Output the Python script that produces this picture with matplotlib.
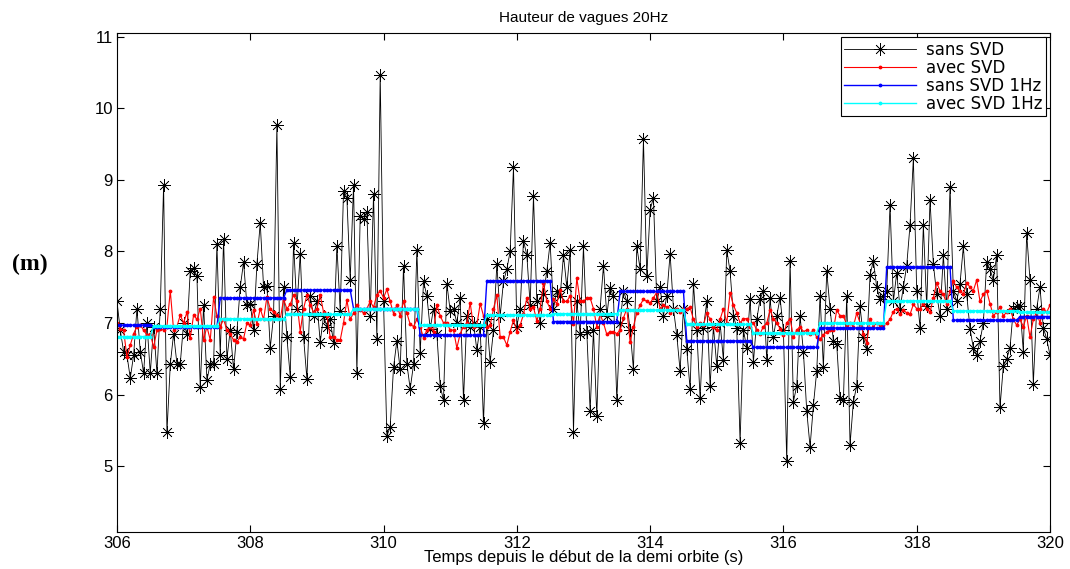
import numpy as np
import matplotlib
matplotlib.use("Agg")
import matplotlib.pyplot as plt

# 20 Hz samples, 306.00 .. 320.00 s
t_start, t_end, freq = 306.0, 320.0, 20

sans_svd = [
    7.30, 6.90, 6.60, 6.55, 6.23, 6.55, 7.20, 6.60, 6.30, 7.00,
    6.30, 6.95, 6.30, 7.20, 8.93, 5.47, 6.42, 6.85, 6.43, 6.43,
    7.00, 6.85, 7.73, 7.77, 7.65, 6.10, 7.25, 6.20, 6.43, 6.43,
    8.10, 6.55, 8.17, 6.50, 6.90, 6.35, 6.88, 7.50, 7.85, 7.25,
    7.27, 6.90, 7.82, 8.40, 7.50, 7.52, 6.65, 7.10, 9.77, 6.08,
    7.50, 6.80, 6.25, 8.12, 7.20, 7.97, 6.80, 6.22, 7.37, 7.10,
    7.30, 6.73, 7.10, 6.95, 7.05, 6.72, 8.08, 7.17, 8.85, 8.75,
    7.60, 8.93, 6.30, 8.50, 8.45, 8.55, 7.10, 8.80, 6.78, 10.47,
    7.30, 5.42, 5.55, 6.38, 6.75, 6.35, 7.80, 6.43, 6.08, 6.42,
    8.02, 6.58, 7.58, 7.38, 6.92, 7.20, 6.85, 6.12, 5.92, 7.55,
    7.17, 7.20, 7.00, 7.35, 5.92, 7.10, 6.95, 7.00, 6.62, 6.95,
    5.60, 7.05, 6.45, 6.90, 7.82, 7.10, 7.58, 7.75, 8.00, 9.18,
    6.95, 7.20, 8.15, 7.95, 7.25, 8.78, 7.30, 7.00, 7.40, 7.72,
    8.12, 7.20, 7.45, 7.37, 7.95, 7.50, 8.02, 5.47, 7.30, 6.85,
    8.07, 6.88, 5.77, 6.90, 5.70, 7.20, 7.80, 7.10, 7.49, 7.37,
    5.92, 7.00, 7.45, 7.30, 6.90, 6.35, 8.07, 7.75, 9.57, 7.65,
    8.58, 8.75, 7.30, 7.50, 7.10, 7.38, 7.97, 7.20, 6.83, 6.33,
    7.20, 6.63, 6.08, 7.55, 6.90, 5.95, 6.93, 7.30, 6.12, 6.95,
    6.40, 7.00, 6.48, 8.02, 7.72, 7.10, 6.93, 5.33, 6.90, 6.65,
    7.33, 6.45, 7.05, 7.33, 7.45, 6.48, 7.35, 6.80, 7.10, 7.35,
    6.90, 5.07, 7.87, 5.90, 6.12, 7.10, 6.60, 5.77, 5.27, 5.85,
    6.33, 7.38, 6.38, 7.72, 7.20, 6.75, 6.70, 5.95, 5.92, 7.38,
    5.30, 5.90, 6.12, 7.23, 6.80, 6.63, 7.67, 7.87, 7.50, 7.33,
    7.37, 7.45, 8.65, 7.30, 7.70, 7.20, 7.50, 7.80, 8.37, 9.30,
    7.45, 6.93, 8.37, 7.23, 8.72, 7.82, 7.40, 7.10, 7.95, 7.20,
    8.90, 7.45, 7.30, 7.55, 8.07, 7.40, 6.92, 6.65, 6.55, 6.75,
    7.00, 7.85, 7.75, 7.60, 7.95, 5.82, 6.40, 6.50, 6.65, 7.20,
    7.23, 7.23, 6.60, 8.25, 7.60, 6.15, 7.20, 7.50, 6.93, 6.78,
    6.55,
]

avec_svd = [
    7.00, 6.92, 6.90, 6.52, 6.69, 6.85, 6.95, 6.97, 6.90, 6.83,
    6.85, 6.66, 6.90, 6.92, 6.90, 6.95, 7.45, 6.90, 6.95, 7.11,
    7.00, 7.15, 6.79, 7.11, 7.05, 7.20, 6.76, 6.95, 6.76, 7.36,
    7.10, 6.95, 7.05, 6.90, 6.85, 6.76, 6.74, 6.80, 6.78, 7.00,
    6.97, 7.18, 6.98, 7.20, 7.05, 7.36, 7.20, 7.15, 7.11, 7.05,
    7.33, 7.20, 7.26, 7.39, 7.30, 6.88, 7.20, 7.39, 7.25, 7.15,
    7.20, 7.39, 7.15, 7.10, 6.80, 6.80, 6.76, 6.76, 7.00, 7.32,
    7.05, 7.14, 7.25, 7.18, 7.14, 7.20, 7.30, 7.22, 7.39, 7.45,
    7.35, 7.47, 7.30, 7.13, 7.25, 7.10, 7.30, 7.14, 6.98, 6.95,
    7.05, 6.95, 6.79, 6.90, 6.95, 6.88, 7.25, 7.10, 7.00, 7.00,
    6.90, 6.90, 6.65, 6.85, 6.95, 7.00, 7.28, 6.95, 6.97, 7.27,
    7.10, 6.94, 6.97, 7.20, 7.39, 6.80, 6.80, 6.69, 6.88, 7.04,
    6.88, 6.97, 7.12, 7.35, 7.20, 7.22, 7.03, 7.20, 7.56, 7.30,
    7.20, 7.33, 7.27, 7.46, 7.30, 7.30, 7.38, 6.99, 7.63, 7.30,
    7.30, 7.35, 7.35, 7.20, 6.95, 7.12, 7.00, 6.84, 6.88, 6.88,
    6.85, 6.90, 7.07, 7.20, 6.73, 6.95, 7.14, 7.25, 7.33, 7.30,
    7.28, 7.35, 7.43, 7.20, 7.25, 7.22, 7.14, 7.18, 7.20, 7.15,
    7.20, 7.20, 7.22, 7.05, 6.95, 7.00, 6.97, 7.14, 7.05, 6.95,
    6.90, 7.05, 7.20, 7.00, 7.42, 7.25, 7.14, 7.00, 7.06, 7.06,
    6.95, 7.00, 6.90, 6.85, 6.95, 7.00, 7.18, 7.06, 7.00, 6.92,
    6.83, 7.00, 7.06, 6.80, 6.90, 6.95, 6.88, 6.90, 6.85, 6.90,
    6.80, 6.78, 6.83, 6.88, 6.90, 6.90, 7.18, 7.10, 7.10, 6.97,
    7.00, 6.95, 7.14, 7.00, 6.85, 6.72, 7.05, 6.95, 7.00, 6.97,
    6.97, 7.00, 7.05, 7.16, 7.20, 7.12, 7.18, 7.14, 7.12, 7.26,
    7.20, 7.20, 7.26, 7.20, 7.15, 7.35, 7.56, 7.45, 7.40, 7.27,
    7.45, 7.58, 7.50, 7.45, 7.40, 7.56, 7.50, 7.45, 7.60, 7.30,
    7.40, 7.45, 7.27, 7.10, 7.15, 7.22, 7.10, 7.15, 7.20, 7.05,
    6.97, 7.05, 6.95, 7.10, 6.80, 7.05, 7.15, 7.00, 7.20, 7.15,
    7.25,
]

# 1 Hz means, one per second block
sans_svd_1hz = [6.97, 6.95, 7.35, 7.46, 7.20, 6.83, 7.59, 7.02,
                7.44, 6.75, 6.66, 6.93, 7.78, 7.04, 7.09]
avec_svd_1hz = [6.81, 6.96, 7.06, 7.12, 7.20, 6.97, 7.11, 7.13,
                7.18, 6.98, 6.86, 7.00, 7.31, 7.17, 7.15]
block_len = [11] + [20] * 13 + [10]

t = np.linspace(t_start, t_end, len(sans_svd))
blue = np.repeat(sans_svd_1hz, block_len)
cyan = np.repeat(avec_svd_1hz, block_len)

plt.rcParams['font.family'] = ['Liberation Sans', 'DejaVu Sans']

fig = plt.figure(figsize=(10.7, 5.69), dpi=100)
ax = fig.add_axes([0.1093, 0.065, 0.872, 0.877])

ax.plot(t, sans_svd, color='black', lw=0.6, marker=(8, 2, 0), ms=9, mew=0.5,
        label='sans SVD')
ax.plot(t, avec_svd, color='red', lw=0.8, marker='.', ms=3.5,
        label='avec SVD')
ax.plot(t, blue, color='blue', lw=1.0, marker='.', ms=3.5,
        label='sans SVD 1Hz')
ax.plot(t, cyan, color='cyan', lw=1.0, marker='.', ms=3.5,
        label='avec SVD 1Hz')

ax.set_xlim(t_start, t_end)
ax.set_ylim(4.08, 11.05)
ax.set_xticks(np.arange(306, 321, 2))
ax.set_yticks(np.arange(5, 12, 1))
ax.tick_params(direction='in', top=True, right=True, labelsize=12, length=5,
               pad=3)
for s in ax.spines.values():
    s.set_linewidth(0.8)

ax.set_title('Hauteur de vagues 20Hz', fontsize=11, pad=8)
ax.set_xlabel('Temps depuis le début de la demi orbite (s)', fontsize=12,
              labelpad=-1)
fig.text(0.028, 0.535, '(m)', fontsize=17, fontweight='bold',
         family='Liberation Serif', ha='center', va='center')

leg = ax.legend(loc='upper right', prop={'family': 'DejaVu Sans', 'size': 12},
                fancybox=False, edgecolor='black', framealpha=1,
                borderpad=0.2, labelspacing=0.0, handlelength=4.3,
                handletextpad=0.6, borderaxespad=0.25)
leg.get_frame().set_linewidth(0.8)

fig.savefig('out.png', dpi=100)
